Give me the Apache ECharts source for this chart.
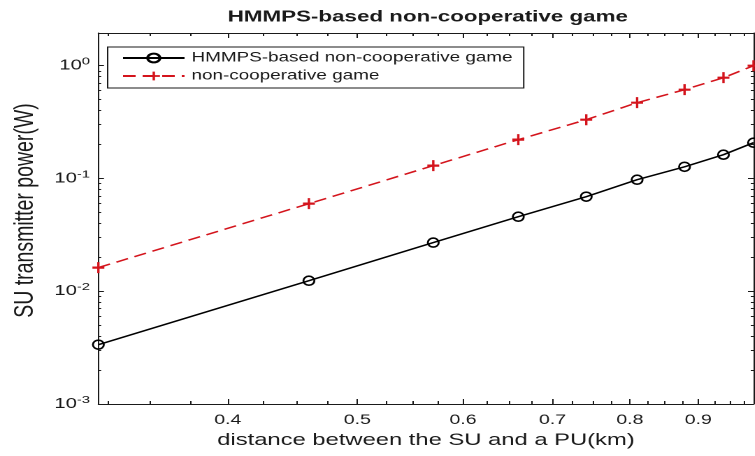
<!DOCTYPE html>
<html>
<head>
<meta charset="utf-8">
<script src="https://cdn.jsdelivr.net/npm/echarts@6/dist/echarts.min.js"></script>
<style>
  html, body { margin: 0; padding: 0; background: #fff; overflow: hidden; }
  #chart {
    width: 540px; height: 456px;
    transform: scaleX(1.398); transform-origin: 0 0;
  }
</style>
</head>
<body>
<div id="chart"></div>
<script>
// Distance between the SU and a PU (km)
const distanceKm = [0.32, 0.46, 0.57, 0.66, 0.742, 0.81, 0.879, 0.94, 0.99];
// SU transmitter power (W)
const hmmpsPower = [0.00336, 0.0124, 0.0270, 0.0458, 0.0690, 0.0975, 0.127, 0.1625, 0.2076];
const nonCoopPower = [0.0162, 0.0598, 0.130, 0.221, 0.332, 0.470, 0.613, 0.783, 1.0];

const seriesNames = ['HMMPS-based non-cooperative game', 'non-cooperative game'];
const xTickLabels = [0.4, 0.5, 0.6, 0.7, 0.8, 0.9];
const yTickLabels = [0.001, 0.01, 0.1, 1];

const X_MIN = 0.32, X_MAX = 0.99;
const Y_MIN = 0.001, Y_MAX = 1.95;

// minor tick positions: 0.025 steps on x, 2..9 per decade on y
const xMinor = [];
for (let i = 13; i <= 39; i++) {
  const v = +(i * 0.025).toFixed(3);
  if (v > X_MIN && v < X_MAX && Math.abs(v * 10 - Math.round(v * 10)) > 1e-6) xMinor.push(v);
}
const yMinor = [];
for (let e = -3; e <= 0; e++) {
  for (let k = 2; k <= 9; k++) {
    const v = +(k * Math.pow(10, e)).toPrecision(3);
    if (v < Y_MAX) yMinor.push(v);
  }
}

const FONT = 'Liberation Sans, Arial, Helvetica, sans-serif';
const AX = '#1a1a1a';
const RED = '#d4141c';

function pairs(xs, ys) { return xs.map((x, i) => [x, ys[i]]); }

function xAxisDef(pos, major, withLabels) {
  return {
    type: 'log', logBase: 10, position: pos, min: X_MIN, max: X_MAX,
    axisLine: { show: major, onZero: false, lineStyle: { color: AX, width: 1 } },
    axisTick: { show: true, inside: true, length: major ? 5 : 3,
      customValues: major ? xTickLabels : xMinor,
      lineStyle: { color: AX, width: 1 } },
    axisLabel: withLabels ? {
      show: true, customValues: xTickLabels, margin: 9,
      fontFamily: FONT, fontSize: 14, color: AX,
      formatter: v => (+v).toFixed(1)
    } : { show: false },
    splitLine: { show: false }, minorTick: { show: false }
  };
}
function yAxisDef(pos, major, withLabels) {
  return {
    type: 'log', logBase: 10, position: pos, min: Y_MIN, max: Y_MAX,
    axisLine: { show: major, onZero: false, lineStyle: { color: AX, width: 1 } },
    axisTick: { show: true, inside: true, length: major ? 4 : 2,
      customValues: major ? yTickLabels : yMinor,
      lineStyle: { color: AX, width: 1 } },
    axisLabel: withLabels ? {
      show: true, customValues: yTickLabels, margin: 6,
      formatter: v => '{b|10}{s|' + Math.round(Math.log10(v)) + '}',
      rich: {
        b: { fontFamily: FONT, fontSize: 14.5, color: AX },
        s: { fontFamily: FONT, fontSize: 10.5, color: AX, padding: [0, 0, 8, 0] }
      }
    } : { show: false },
    splitLine: { show: false }, minorTick: { show: false }
  };
}

const xMain = xAxisDef('bottom', true, true);
xMain.name = 'distance between the SU and a PU(km)';
xMain.nameLocation = 'middle';
xMain.nameGap = 28;
xMain.nameTextStyle = { fontFamily: FONT, fontSize: 17, color: AX };

const yMain = yAxisDef('left', true, true);
yMain.name = 'SU transmitter power(W)';
yMain.nameLocation = 'middle';
yMain.nameRotate = 90;
yMain.nameGap = 40;
yMain.nameTextStyle = { fontFamily: FONT, fontSize: 19.5, color: AX, padding: [0, 0, 0, 16] };

const chart = echarts.init(document.getElementById('chart'), null, { renderer: 'canvas', devicePixelRatio: 2 });
chart.setOption({
  backgroundColor: '#fff',
  animation: false,
  title: {
    text: 'HMMPS-based non-cooperative game',
    left: 301, top: 4, textAlign: 'center',
    textStyle: { fontFamily: FONT, fontSize: 16, fontWeight: 'bold', color: AX }
  },
  legend: {
    data: seriesNames,
    orient: 'vertical',
    left: 77, top: 47,
    padding: [4, 8, 5, 10],
    itemGap: 4, itemWidth: 44, itemHeight: 11,
    backgroundColor: '#fff', borderColor: AX, borderWidth: 1, borderRadius: 0,
    textStyle: { fontFamily: FONT, fontSize: 13.5, color: AX }
  },
  grid: { left: 63, right: 1, top: 33, bottom: 52, containLabel: false },
  xAxis: [xMain, xAxisDef('bottom', false, false), xAxisDef('top', true, false), xAxisDef('top', false, false)],
  yAxis: [yMain, yAxisDef('left', false, false), yAxisDef('right', true, false), yAxisDef('right', false, false)],
  series: [
    {
      name: seriesNames[0], type: 'line', xAxisIndex: 0, yAxisIndex: 0,
      data: pairs(distanceKm, hmmpsPower),
      symbol: 'circle', symbolSize: [7.8, 9],
      lineStyle: { color: '#000', width: 1.5 },
      itemStyle: { color: 'rgba(0,0,0,0)', borderColor: '#000', borderWidth: 1.5 },
      clip: false, z: 3
    },
    {
      name: seriesNames[1], type: 'line', xAxisIndex: 0, yAxisIndex: 0,
      data: pairs(distanceKm, nonCoopPower),
      symbol: 'path://M4,0h2v4h4v2h-4v4h-2v-4h-4v-2h4z', symbolSize: [8.5, 11],
      lineStyle: { color: RED, width: 1.5, type: [9, 5] },
      itemStyle: { color: RED },
      clip: false, z: 3
    }
  ]
});
</script>
</body>
</html>
